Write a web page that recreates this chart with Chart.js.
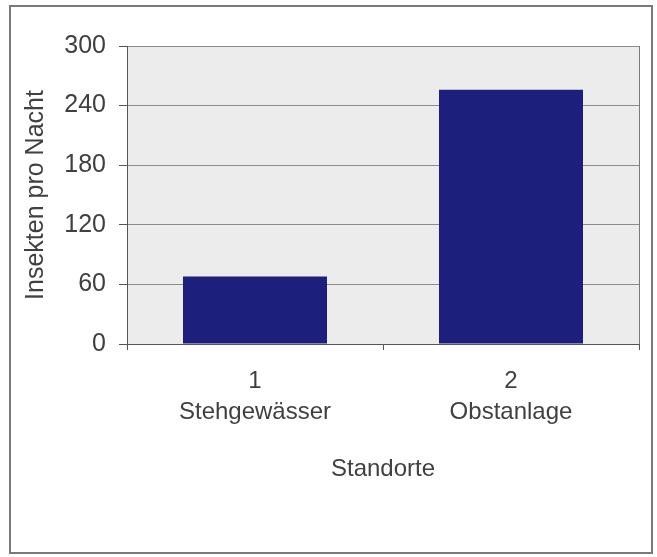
<!DOCTYPE html>
<html>
<head>
<meta charset="utf-8">
<script src="https://cdn.jsdelivr.net/npm/chart.js@4/dist/chart.umd.min.js"></script>
<style>
    html, body { margin: 0; padding: 0; background: #fff; }
    #frame { position: absolute; left: 9px; top: 5px; width: 640px; height: 545px; border: 2px solid #7a7a7a; }
    #wrap { position: absolute; left: 0; top: 0; width: 657px; height: 557px; }
</style>
</head>
<body>
<div id="frame"></div>
<div id="wrap"><canvas id="barchart"></canvas></div>
<script>
var standortNummern = ['1', '2'];
var standortNamen = ['Stehgewässer', 'Obstanlage'];
var insektenProNacht = [68, 256];
var yTicks = [0, 60, 120, 180, 240, 300];

function initBarChart() {
    var canvas = document.getElementById('barchart');
    if (!canvas) {
        console.error("Canvas 'barchart' introuvable");
        return;
    }

    Chart.defaults.font.family = '"Liberation Sans", Arial, sans-serif';
    Chart.defaults.font.size = 24;
    Chart.defaults.color = '#404040';

    // fond gris de la zone du graphique + bord droit
    var plotArea = {
        id: 'plotArea',
        beforeDraw: function (chart) {
            var a = chart.chartArea, ctx = chart.ctx;
            ctx.save();
            ctx.fillStyle = '#ececec';
            ctx.fillRect(a.left, a.top, a.right - a.left, a.bottom - a.top);
            ctx.restore();
        },
        afterDraw: function (chart) {
            var a = chart.chartArea, ctx = chart.ctx;
            ctx.save();
            ctx.strokeStyle = '#7a7a7a';
            ctx.lineWidth = 1;
            ctx.beginPath();
            ctx.moveTo(a.right + 0.5, a.top);
            ctx.lineTo(a.right + 0.5, a.bottom);
            ctx.stroke();
            ctx.restore();
        }
    };

    var labels = standortNummern.map(function (n, i) { return [n, standortNamen[i]]; });

    new Chart(canvas.getContext('2d'), {
        type: 'bar',
        data: {
            labels: labels,
            datasets: [{
                label: 'Insekten pro Nacht',
                backgroundColor: '#1c1f7c',
                borderWidth: 0,
                barPercentage: 0.5625,
                categoryPercentage: 1,
                data: insektenProNacht
            }]
        },
        options: {
            responsive: true,
            maintainAspectRatio: false,
            animation: false,
            layout: { padding: { top: 46, right: 18, bottom: 73, left: 0 } },
            plugins: {
                legend: { display: false },
                tooltip: { enabled: false }
            },
            scales: {
                x: {
                    type: 'category',
                    afterFit: function (scale) { scale.height = 140; },
                    grid: {
                        drawOnChartArea: false,
                        drawTicks: true,
                        tickLength: 6,
                        tickColor: '#555'
                    },
                    border: { color: '#555', width: 1 },
                    ticks: {
                        padding: 16,
                        maxRotation: 0,
                        font: { size: 24, lineHeight: 1.3 }
                    },
                    title: {
                        display: true,
                        text: 'Standorte',
                        padding: 0,
                        font: { size: 24 }
                    }
                },
                y: {
                    min: 0,
                    max: 300,
                    afterFit: function (scale) { scale.width = 127; },
                    afterBuildTicks: function (scale) {
                        scale.ticks = yTicks.map(function (v) { return { value: v }; });
                    },
                    grid: {
                        color: '#8c8c8c',
                        lineWidth: 1,
                        drawTicks: true,
                        tickLength: 8,
                        tickColor: '#555'
                    },
                    border: { color: '#555', width: 1 },
                    ticks: {
                        padding: 13,
                        font: { size: 25 }
                    },
                    title: {
                        display: true,
                        text: 'Insekten pro Nacht',
                        padding: { top: 21, bottom: 0 },
                        font: { size: 25 }
                    }
                }
            }
        },
        plugins: [plotArea]
    });
}

document.addEventListener('DOMContentLoaded', initBarChart);
</script>
</body>
</html>
